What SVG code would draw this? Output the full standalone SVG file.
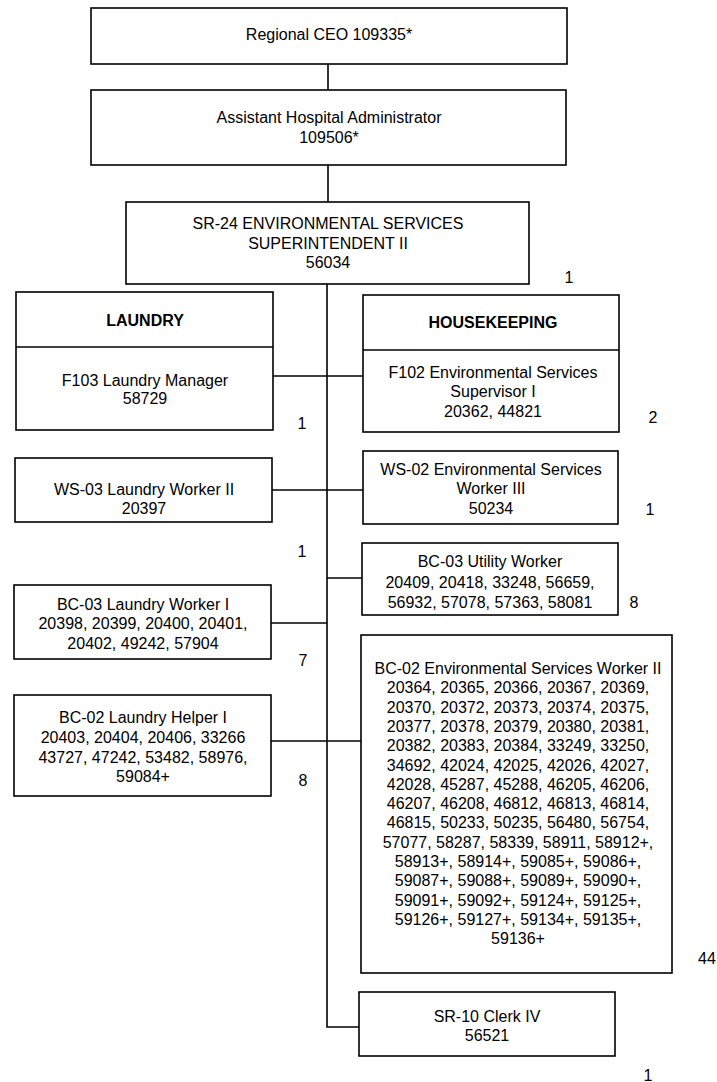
<svg xmlns="http://www.w3.org/2000/svg" width="717" height="1082" viewBox="0 0 717 1082">
<style>
rect.box{fill:#fff;stroke:#000;stroke-width:1.6}
line.div{stroke:#000;stroke-width:1.6}
.conn line,.conn polyline{stroke:#000;stroke-width:1.6;fill:none}
text{font-family:"Liberation Sans",Arial,sans-serif;font-size:16px;fill:#000;text-anchor:middle}
text.b{font-weight:bold}
</style>
<rect width="717" height="1082" fill="#fff"/>
<g class="conn" id="connectors">
<line x1="328" y1="64" x2="328" y2="90"/>
<line x1="328" y1="165" x2="328" y2="202"/>
<polyline points="327,284 327,1027 359,1027"/>
<line x1="273" y1="376" x2="363" y2="376"/>
<line x1="272" y1="490" x2="363" y2="490"/>
<line x1="327" y1="578" x2="362" y2="578"/>
<line x1="271" y1="623" x2="327" y2="623"/>
<line x1="271" y1="741" x2="361" y2="741"/>
</g>
<g id="ceo"><rect class="box" x="91" y="8" width="476" height="56"/><text x="329" y="40">Regional CEO 109335*</text></g>
<g id="aha"><rect class="box" x="91" y="90" width="475" height="75"/><text x="329" y="123">Assistant Hospital Administrator</text><text x="329" y="143">109506*</text></g>
<g id="sr24"><rect class="box" x="126" y="202" width="403" height="82"/><text x="328" y="229">SR-24 ENVIRONMENTAL SERVICES</text><text x="328" y="249">SUPERINTENDENT II</text><text x="328" y="268">56034</text></g>
<g id="laundry"><rect class="box" x="16" y="292" width="257" height="138"/><line class="div" x1="16" y1="347" x2="273" y2="347"/><text class="b" x="145" y="326">LAUNDRY</text><text x="145" y="386">F103 Laundry Manager</text><text x="145" y="404">58729</text></g>
<g id="housekeeping"><rect class="box" x="363" y="295" width="256" height="137"/><line class="div" x1="363" y1="350" x2="619" y2="350"/><text class="b" x="493" y="328">HOUSEKEEPING</text><text x="493" y="378">F102 Environmental Services</text><text x="493" y="397">Supervisor I</text><text x="493" y="417">20362, 44821</text></g>
<g id="ws03"><rect class="box" x="15" y="458" width="257" height="64"/><text x="144" y="495">WS-03 Laundry Worker II</text><text x="144" y="514">20397</text></g>
<g id="ws02"><rect class="box" x="363" y="451" width="255" height="73"/><text x="491" y="475">WS-02 Environmental Services</text><text x="491" y="494">Worker III</text><text x="491" y="514">50234</text></g>
<g id="utility"><rect class="box" x="362" y="543" width="256" height="72"/><text x="490" y="567">BC-03 Utility Worker</text><text x="490" y="588">20409, 20418, 33248, 56659,</text><text x="490" y="608">56932, 57078, 57363, 58081</text></g>
<g id="laundryworker1"><rect class="box" x="14" y="585" width="257" height="74"/><text x="143" y="610">BC-03 Laundry Worker I</text><text x="143" y="629">20398, 20399, 20400, 20401,</text><text x="143" y="649">20402, 49242, 57904</text></g>
<g id="laundryhelper1"><rect class="box" x="14" y="695" width="257" height="101"/><text x="143" y="723">BC-02 Laundry Helper I</text><text x="143" y="743">20403, 20404, 20406, 33266</text><text x="143" y="763">43727, 47242, 53482, 58976,</text><text x="143" y="782">59084+</text></g>
<g id="esw2"><rect class="box" x="361" y="635" width="311" height="338"/>
<text x="518" y="674">BC-02 Environmental Services Worker II</text>
<text x="518" y="693.3">20364, 20365, 20366, 20367, 20369,</text>
<text x="518" y="712.6">20370, 20372, 20373, 20374, 20375,</text>
<text x="518" y="731.9">20377, 20378, 20379, 20380, 20381,</text>
<text x="518" y="751.2">20382, 20383, 20384, 33249, 33250,</text>
<text x="518" y="770.5">34692, 42024, 42025, 42026, 42027,</text>
<text x="518" y="789.8">42028, 45287, 45288, 46205, 46206,</text>
<text x="518" y="809.1">46207, 46208, 46812, 46813, 46814,</text>
<text x="518" y="828.4">46815, 50233, 50235, 56480, 56754,</text>
<text x="518" y="847.7">57077, 58287, 58339, 58911, 58912+,</text>
<text x="518" y="867">58913+, 58914+, 59085+, 59086+,</text>
<text x="518" y="886.3">59087+, 59088+, 59089+, 59090+,</text>
<text x="518" y="905.6">59091+, 59092+, 59124+, 59125+,</text>
<text x="518" y="924.9">59126+, 59127+, 59134+, 59135+,</text>
<text x="518" y="944.2">59136+</text>
</g>
<g id="clerk"><rect class="box" x="359" y="992" width="256" height="64"/><text x="487" y="1022">SR-10 Clerk IV</text><text x="487" y="1041">56521</text></g>
<g id="counts">
<text x="569" y="283">1</text>
<text x="302" y="429">1</text>
<text x="653" y="423">2</text>
<text x="650" y="515">1</text>
<text x="302" y="557">1</text>
<text x="634" y="608">8</text>
<text x="303" y="666">7</text>
<text x="303" y="786">8</text>
<text x="707" y="964">44</text>
<text x="648" y="1081">1</text>
</g>
</svg>
